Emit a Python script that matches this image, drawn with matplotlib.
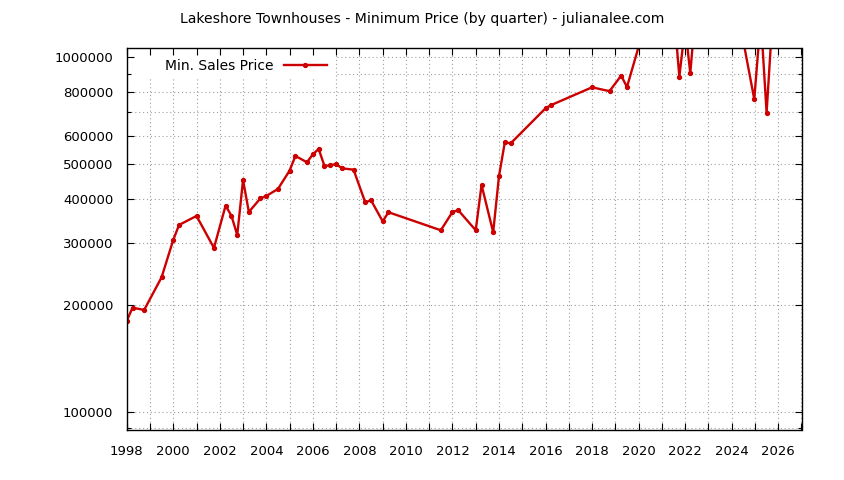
import matplotlib
matplotlib.use("Agg")
import matplotlib.pyplot as plt
from matplotlib.patches import Rectangle
from matplotlib.ticker import FixedLocator, FixedFormatter, NullFormatter

plt.rcParams['font.family'] = ['DejaVu Sans']

title = "Lakeshore Townhouses - Minimum Price (by quarter) - julianalee.com"
series_label = "Min. Sales Price"

years = [1998.0, 1998.25, 1998.75, 1999.5, 2000.0, 2000.25, 2001.0, 2001.75,
         2002.25, 2002.5, 2002.75, 2003.0, 2003.25, 2003.75, 2004.0, 2004.5,
         2005.0, 2005.25, 2005.75, 2006.0, 2006.25, 2006.5, 2006.75, 2007.0,
         2007.25, 2007.75, 2008.25, 2008.5, 2009.0, 2009.25, 2011.5, 2012.0,
         2012.25, 2013.0, 2013.25, 2013.75, 2014.0, 2014.25, 2014.5, 2016.0,
         2016.25, 2018.0, 2018.75, 2019.25, 2019.5, 2020.25, 2020.5, 2021.0,
         2021.5, 2021.75, 2022.0, 2022.22, 2022.5, 2023.0, 2023.5, 2024.0,
         2024.5, 2024.97, 2025.25, 2025.5, 2025.75]
prices = [180800, 197000, 194200, 240000, 305800, 337000, 357300, 290300,
          382000, 357900, 315800, 451200, 366600, 400700, 406800, 425600,
          479300, 527300, 506000, 533000, 551700, 494000, 496300, 500500,
          486700, 482300, 390400, 395500, 345100, 366000, 325600, 366600,
          370700, 325600, 436900, 321400, 463000, 576300, 572000, 718300,
          733900, 823000, 802600, 887900, 824600, 1220000, 1350000, 1400000,
          1385000, 882000, 1220000, 901600, 1480000, 1450000, 1300000, 1250000,
          1110000, 761700, 1290000, 698000, 1280000]

x_ticks = list(range(1998, 2028))
x_labels = [str(y) if y % 2 == 0 else "" for y in x_ticks]
y_major = [100000, 200000, 300000, 400000, 500000, 600000, 800000, 1000000]
y_minor = [90000, 700000, 900000]
y_labels = [str(v) for v in y_major]

fig = plt.figure(figsize=(8.44, 4.8), dpi=100)
W, H = 844, 480
left, right, top, bottom = 126.7, 801.5, 48.3, 429.7
ax = fig.add_axes([left / W, 1 - bottom / H, (right - left) / W, (bottom - top) / H])

ax.set_yscale('log')
ax.set_xlim(1998, 2027)
ax.set_ylim(89300, 1060000)

grid_kw = dict(color='#a0a0a0', lw=0.8, ls=(0, (1, 2.5)), zorder=0.8)
for xv in x_ticks:
    ax.axvline(xv, **grid_kw)
for yv in y_major + y_minor:
    ax.axhline(yv, **grid_kw)

# legend backdrop (gnuplot key box, opaque, no border)
box_w = (335 - left) / (right - left)
box_h = (79 - top) / (bottom - top)
ax.add_patch(Rectangle((0, 1 - box_h), box_w, box_h, transform=ax.transAxes,
                       facecolor='white', edgecolor='none', zorder=1))

line, = ax.plot(years, prices, color='#cc0000', lw=1.7, marker='o', ms=2.8,
                label=series_label, zorder=2, clip_on=True)

ax.xaxis.set_major_locator(FixedLocator(x_ticks))
ax.xaxis.set_major_formatter(FixedFormatter(x_labels))
ax.yaxis.set_major_locator(FixedLocator(y_major))
ax.yaxis.set_major_formatter(FixedFormatter(y_labels))
ax.yaxis.set_minor_locator(FixedLocator(y_minor))
ax.yaxis.set_minor_formatter(NullFormatter())

ax.tick_params(axis='both', which='major', direction='in', length=5, width=0.8,
               top=True, right=True, labelsize=9.5, colors='black')
ax.tick_params(axis='y', which='major', pad=9.6)
ax.tick_params(axis='x', which='major', pad=11)
ax.tick_params(axis='y', which='minor', direction='in', length=3, width=0.8,
               left=True, right=True)
for sp in ax.spines.values():
    sp.set_linewidth(1.0)
    sp.set_zorder(3)

fig.legend(handles=[line], labels=[series_label], loc='center left',
           bbox_to_anchor=(165 / W, 1 - 65.5 / H), frameon=False,
           markerfirst=False, handlelength=3.1, handletextpad=0.72,
           borderpad=0, borderaxespad=0, fontsize=10, numpoints=1)

fig.text(421.7 / W, 1 - 19.5 / H, title, ha='center', va='center', fontsize=10.1)

fig.savefig('out.png', dpi=100)
